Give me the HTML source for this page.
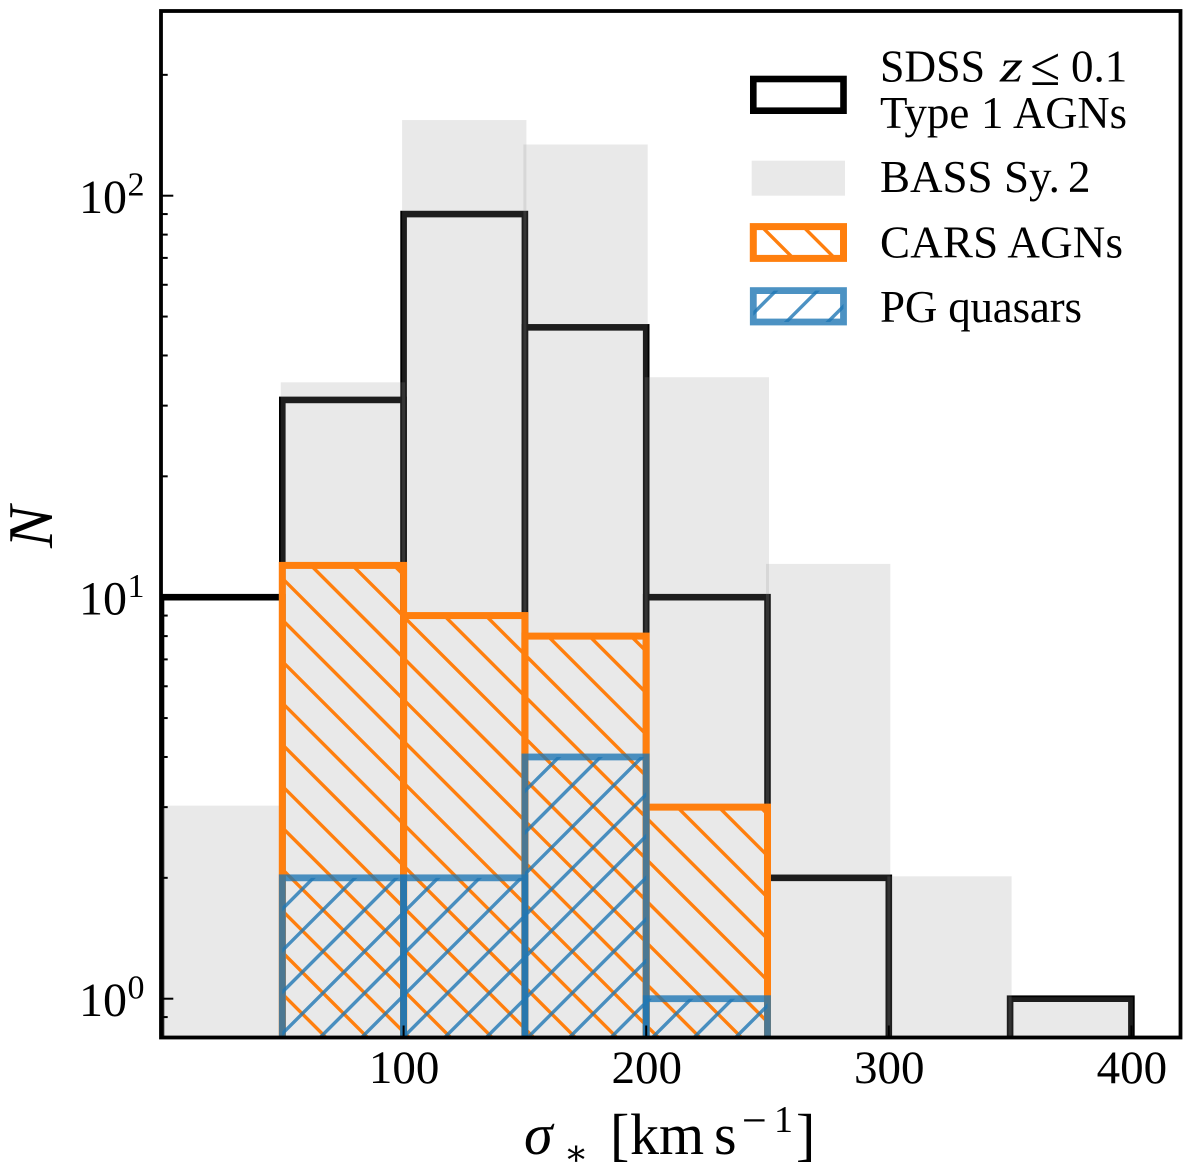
<!DOCTYPE html>
<html>
<head>
<meta charset="utf-8">
<title>Velocity dispersion histogram</title>
<style>
html,body{margin:0;padding:0;background:#fff;width:1200px;height:1174px;overflow:hidden;}
svg{display:block;}
text{font-family:"Liberation Serif","DejaVu Serif",serif;fill:#000;}
</style>
</head>
<body>
<svg id="chart" xmlns="http://www.w3.org/2000/svg" width="1200" height="1174" viewBox="0 0 1200 1174">
  <defs id="defs"><clipPath id="axes-clip"><rect x="161" y="11" width="1019.5" height="1026.5"/></clipPath></defs>
  <g id="plot" clip-path="url(#axes-clip)"></g>
  <g id="ticks"></g>
  <rect x="161" y="11" width="1019.5" height="1026.5" fill="none" stroke="#000" stroke-width="3.8"/>
  <g id="tick-labels"></g>

  <text transform="translate(52,548) rotate(-90)" font-size="63" font-style="italic">N</text>
  <g>
    <text x="524" y="1154" font-size="58" font-style="italic">σ</text>
    <text x="564" y="1165" font-size="36">∗</text>
    <text x="610" y="1154" font-size="58">[</text>
    <text x="630" y="1154" font-size="58">km</text>
    <text x="714" y="1154" font-size="58">s</text>
    <text x="742" y="1135" font-size="44">−</text>
    <text x="774" y="1132" font-size="38">1</text>
    <text x="796" y="1154" font-size="58">]</text>
  </g>

  <g id="legend">
    <g>
      <text x="880" y="81.7" font-size="45" textLength="105" lengthAdjust="spacingAndGlyphs">SDSS</text>
      <text x="1000" y="81.7" font-size="45" font-style="italic" textLength="23" lengthAdjust="spacingAndGlyphs">z</text>
      <text x="1030" y="85" font-size="55">≤</text>
      <text x="1071" y="81.7" font-size="45">0.1</text>
      <text x="880" y="128" font-size="45">Type</text>
      <text x="981" y="128" font-size="45">1</text>
      <text x="1013" y="128" font-size="45" textLength="114" lengthAdjust="spacingAndGlyphs">AGNs</text>
    </g>
    <g>
      <text x="880" y="192" font-size="45">BASS</text>
      <text x="1004" y="192" font-size="45">Sy.</text>
      <text x="1068" y="192" font-size="45">2</text>
    </g>
    <g>
      <text x="880" y="257.3" font-size="45" textLength="243" lengthAdjust="spacing">CARS AGNs</text>
    </g>
    <g>
      <text x="880" y="322" font-size="45" textLength="202" lengthAdjust="spacing">PG quasars</text>
    </g>
  </g>
</svg>
<script>
// Histogram data
const binEdges = [0, 50, 100, 150, 200, 250, 300, 350, 400];
const sdssCounts = [10, 31, 90, 47, 10, 2, 0, 1];
const bassCounts = [3, 34, 153, 133, 35, 12, 2, 1];
const carsCounts = [0, 12, 9, 8, 3, 0, 0, 0];
const pgCounts = [0, 2, 2, 4, 1, 0, 0, 0];

// Tick data
const xTicks = [100, 200, 300, 400];
const yDecades = [0, 1, 2];
const yMinorValues = [0.9, 2, 3, 4, 5, 6, 7, 8, 9, 20, 30, 40, 50, 60, 70, 80, 90, 200];

// Axis functions
const sx = v => 161 + 2.426 * v;
const sy = v => 998.7 - 401.5 * Math.log10(v);

const NS = 'http://www.w3.org/2000/svg';
const plot = document.getElementById('plot');
const ticks = document.getElementById('ticks');
const tickLabels = document.getElementById('tick-labels');
const legend = document.getElementById('legend');
const defs = document.getElementById('defs');
const HATCH = 41.55;
const BOTTOM = 0.7;
let clipId = 0;

function make(tag, attrs, parent) {
  const el = document.createElementNS(NS, tag);
  for (const k in attrs) el.setAttribute(k, attrs[k]);
  parent.appendChild(el);
  return el;
}

function hatchLines(group, x0, y0, x1, y1, dir, color, opacity) {
  const id = 'hc' + (clipId++);
  const cp = make('clipPath', {id: id}, defs);
  make('rect', {x: x0, y: y0, width: x1 - x0, height: y1 - y0}, cp);
  const g = make('g', {'clip-path': 'url(#' + id + ')'}, group);
  
  
  const lineAttrs = {stroke: color, 'stroke-width': 3.4, 'stroke-opacity': opacity};
  const pad = 3;
  if (dir === 'back') {
    // lines y = x + c, trimmed to the bar rectangle
    const base = 5.15;
    const kMin = Math.floor((y0 - x1 - base) / HATCH);
    const kMax = Math.ceil((y1 - x0 - base) / HATCH);
    for (let k = kMin; k <= kMax; k++) {
      const c = base + k * HATCH;
      const xa = Math.max(x0, y0 - c) - pad;
      const xb = Math.min(x1, y1 - c) + pad;
      if (xb <= xa) continue;
      make('line', Object.assign({x1: xa, y1: xa + c, x2: xb, y2: xb + c}, lineAttrs), g);
    }
  } else {
    // lines y = c - x, trimmed to the bar rectangle
    const base = 1316 % HATCH;
    const kMin = Math.floor((y0 + x0 - base) / HATCH);
    const kMax = Math.ceil((y1 + x1 - base) / HATCH);
    for (let k = kMin; k <= kMax; k++) {
      const c = base + k * HATCH;
      const xa = Math.max(x0, c - y1) - pad;
      const xb = Math.min(x1, c - y0) + pad;
      if (xb <= xa) continue;
      make('line', Object.assign({x1: xa, y1: c - xa, x2: xb, y2: c - xb}, lineAttrs), g);
    }
  }
}

function outlineBar(group, x0, y0, x1, y1, color, opacity, width) {
  make('rect', {x: x0, y: y0, width: x1 - x0, height: y1 - y0, fill: 'none', stroke: color, 'stroke-width': width, 'stroke-opacity': opacity, 'stroke-linejoin': 'miter'}, group);
}

// SDSS black outline bars (drawn first, the grey veil sits above them)
const sdssGroup = make('g', {}, plot);


sdssCounts.forEach((v, i) => {
  if (v <= 0) return;
  const g = make('g', {}, sdssGroup);
  
  
  outlineBar(g, sx(binEdges[i]), sy(v), sx(binEdges[i + 1]), sy(BOTTOM), '#000', 1, 6.6);
});

// BASS grey filled bars
const bassGroup = make('g', {}, plot);


bassCounts.forEach((v, i) => {
  if (v <= 0) return;
  const x0 = sx(binEdges[i]) - 1.5;
  const x1 = sx(binEdges[i + 1]) + 1.5;
  const y0 = sy(v) - 1.5;
  const r = make('rect', {x: x0, y: y0, width: x1 - x0, height: sy(BOTTOM) - y0, fill: '#909090', 'fill-opacity': 0.2}, bassGroup);
  
  
});

// CARS orange hatched bars
const carsGroup = make('g', {}, plot);


carsCounts.forEach((v, i) => {
  if (v <= 0) return;
  const g = make('g', {}, carsGroup);
  
  
  const x0 = sx(binEdges[i]), x1 = sx(binEdges[i + 1]), y0 = sy(v), y1 = sy(BOTTOM);
  hatchLines(g, x0, y0, x1, y1, 'back', '#ff7f0e', 1);
  outlineBar(g, x0, y0, x1, y1, '#ff7f0e', 1, 7);
});

// PG blue hatched bars
const pgGroup = make('g', {}, plot);


pgCounts.forEach((v, i) => {
  if (v <= 0) return;
  const g = make('g', {}, pgGroup);
  
  
  const x0 = sx(binEdges[i]), x1 = sx(binEdges[i + 1]), y0 = sy(v), y1 = sy(BOTTOM);
  hatchLines(g, x0, y0, x1, y1, 'fwd', '#1f77b4', 0.8);
  outlineBar(g, x0, y0, x1, y1, '#1f77b4', 0.8, 6.8);
});

// Ticks and tick labels
xTicks.forEach(v => {
  const t = make('line', {x1: sx(v), x2: sx(v), y1: 1037.5, y2: 1025.5, stroke: '#000', 'stroke-width': 2}, ticks);
  
  
  const l = make('text', {x: sx(v) + 0.5, y: 1083, 'font-size': 47, 'text-anchor': 'middle'}, tickLabels);
  l.textContent = String(v);
  
  
});
yDecades.forEach(d => {
  const y = sy(Math.pow(10, d));
  const t = make('line', {x1: 161, x2: 173.3, y1: y, y2: y, stroke: '#000', 'stroke-width': 2}, ticks);
  
  
  const g = make('g', {}, tickLabels);
  
  
  const base = make('text', {x: 79, y: y + 17.5, 'font-size': 48}, g);
  base.textContent = '10';
  const exp = make('text', {x: 127.5, y: y - 0.4, 'font-size': 34}, g);
  exp.textContent = String(d);
});
yMinorValues.forEach(v => {
  const y = sy(v);
  const t = make('line', {x1: 161, x2: 167.7, y1: y, y2: y, stroke: '#000', 'stroke-width': 2}, ticks);
  
  
});

// Legend swatches
const lx0 = 753.3, lx1 = 843.5;
const swSdss = make('g', {}, legend);


outlineBar(swSdss, lx0, 79, lx1, 110.7, '#000', 1, 6.6);

const swBass = make('rect', {x: 751.7, y: 160.7, width: 93.3, height: 35, fill: '#909090', 'fill-opacity': 0.2}, legend);



const swCars = make('g', {}, legend);


hatchLines(swCars, lx0, 226.6, lx1, 258.4, 'back', '#ff7f0e', 1);
outlineBar(swCars, lx0, 226.6, lx1, 258.4, '#ff7f0e', 1, 7);

const swPg = make('g', {}, legend);


hatchLines(swPg, lx0, 290.6, lx1, 322, 'fwd', '#1f77b4', 0.8);
outlineBar(swPg, lx0, 290.6, lx1, 322, '#1f77b4', 0.8, 6.8);
</script>
</body>
</html>
